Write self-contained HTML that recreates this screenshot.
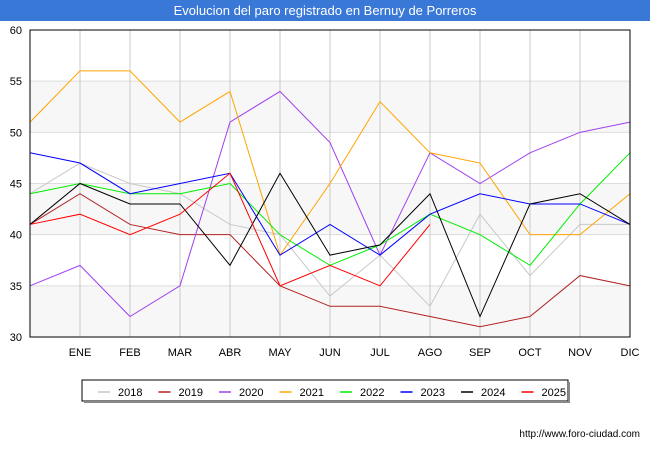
<!DOCTYPE html>
<html><head><meta charset="utf-8"><style>
body{margin:0;background:#fff;font-family:"Liberation Sans",sans-serif}
svg text{font-family:"Liberation Sans",sans-serif}
</style></head><body>
<svg width="650" height="450" xmlns="http://www.w3.org/2000/svg">
<rect x="0" y="0" width="650" height="450" fill="#fff"/>
<rect x="0" y="0" width="650" height="21" fill="#3a78d8"/>
<text x="325" y="15" text-anchor="middle" font-size="13" fill="#fff">Evolucion del paro registrado en Bernuy de Porreros</text>
<g id="bands"></g><g id="grid"></g><g id="series"></g><g id="axes"></g>
<rect x="30" y="30" width="600" height="307" fill="none" stroke="#000" stroke-width="1"/>
<g id="legend"></g>
<text x="640" y="437" text-anchor="end" font-size="10" fill="#000">http://www.foro-ciudad.com</text>
</svg>
<script>
const categories=["","ENE","FEB","MAR","ABR","MAY","JUN","JUL","AGO","SEP","OCT","NOV","DIC"];
const yTicks=[30,35,40,45,50,55,60];
const seriesNames=["2018","2019","2020","2021","2022","2023","2024","2025"];
const seriesColors=["#c8c8c8","#b22222","#a040f0","#ffa500","#00ee00","#0000ff","#000000","#ff0000"];
const s2018=[44,47,45,44,41,40,34,38,33,42,36,41,41];
const s2019=[41,44,41,40,40,35,33,33,32,31,32,36,35];
const s2020=[35,37,32,35,51,54,49,38,48,45,48,50,51];
const s2021=[51,56,56,51,54,38,45,53,48,47,40,40,44];
const s2022=[44,45,44,44,45,40,37,39,42,40,37,43,48];
const s2023=[48,47,44,45,46,38,41,38,42,44,43,43,41];
const s2024=[41,45,43,43,37,46,38,39,44,32,43,44,41];
const s2025=[41,42,40,42,46,35,37,35,41];
const allSeries=[s2018,s2019,s2020,s2021,s2022,s2023,s2024,s2025];
const NS="http://www.w3.org/2000/svg";
const X0=30,X1=630,Y0=337,Y1=30,YMIN=30,YMAX=60;
const xs=i=>X0+i*(X1-X0)/(categories.length-1);
const ys=v=>Y0-(v-YMIN)*(Y0-Y1)/(YMAX-YMIN);
function mk(t,a,p){const e=document.createElementNS(NS,t);for(const k in a)e.setAttribute(k,a[k]);p.appendChild(e);return e;}
const bands=document.getElementById('bands'),grid=document.getElementById('grid'),ser=document.getElementById('series'),axes=document.getElementById('axes'),leg=document.getElementById('legend');
for(let i=0;i<yTicks.length-1;i++){if(i%2===0){const r=mk('rect',{x:X0,y:ys(yTicks[i+1]),width:X1-X0,height:ys(yTicks[i])-ys(yTicks[i+1]),fill:'#f7f7f7'},bands);

}}
yTicks.forEach(v=>{const l=mk('line',{x1:X0,x2:X1,y1:ys(v),y2:ys(v),stroke:'#dddddd'},grid);


const t=mk('text',{x:X0-8,y:ys(v)+4,'text-anchor':'end','font-size':11},axes);t.textContent=v;

});
categories.forEach((c,i)=>{if(i>0){const l=mk('line',{x1:xs(i),x2:xs(i),y1:Y1,y2:Y0,stroke:'#c8c8c8'},grid);

}
if(c){const t=mk('text',{x:xs(i),y:356,'text-anchor':'middle','font-size':11},axes);t.textContent=c;

}});
allSeries.forEach((d,k)=>{const p=mk('polyline',{points:d.map((v,i)=>xs(i)+','+ys(v)).join(' '),fill:'none',stroke:seriesColors[k],'stroke-width':1},ser);

});
const lb=mk('rect',{x:82,y:380,width:486,height:21,fill:'#fff',stroke:'#000'},leg);


mk('rect',{x:84,y:401,width:486,height:2,fill:'#888'},leg);
mk('rect',{x:568,y:382,width:2,height:21,fill:'#888'},leg);
seriesNames.forEach((n,k)=>{const x=98+k*60.5;
const g=mk('g',{},leg);


mk('line',{x1:x,x2:x+12,y1:392,y2:392,stroke:seriesColors[k],'stroke-width':1.5},g);
const t=mk('text',{x:x+20,y:396,'font-size':11},g);t.textContent=n;});
</script>
</body></html>
